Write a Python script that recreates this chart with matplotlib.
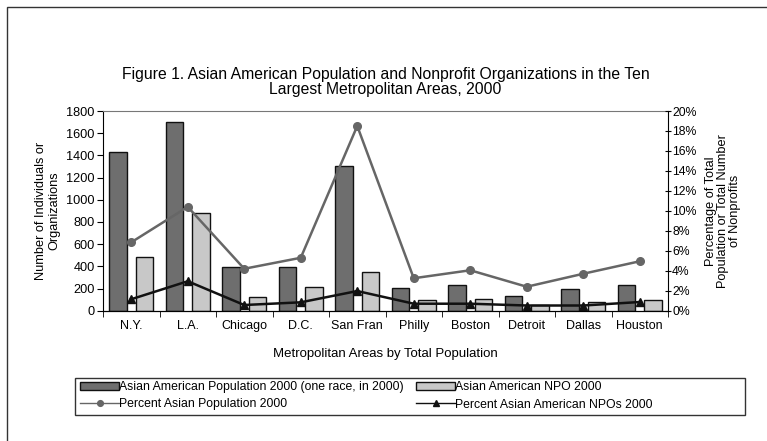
import matplotlib
matplotlib.use('Agg')
import matplotlib.pyplot as plt
import numpy as np
from matplotlib.patches import Rectangle

plt.rcParams['font.family'] = ['Liberation Sans', 'DejaVu Sans']

cities = ['N.Y.', 'L.A.', 'Chicago', 'D.C.', 'San Fran', 'Philly', 'Boston',
          'Detroit', 'Dallas', 'Houston']
# thousands of people / number of organisations
asian_pop = [1430, 1705, 396, 396, 1306, 207, 233, 134, 194, 233]
asian_npo = [481, 884, 126, 210, 351, 94, 104, 52, 74, 93]
# percent
pct_pop = [6.85, 10.4, 4.2, 5.3, 18.5, 3.25, 4.05, 2.4, 3.7, 4.95]
pct_npo = [1.15, 2.95, 0.57, 0.84, 1.97, 0.7, 0.7, 0.52, 0.52, 0.87]

x = np.arange(len(cities))
w = 0.31

fig = plt.figure(figsize=(7.67, 4.41), dpi=100)
ax = fig.add_axes([103/767, 1 - 310.7/441, (668 - 103)/767, (310.7 - 111)/441])

b1 = ax.bar(x - 0.235, asian_pop, w, color='#6e6e6e', edgecolor='#111111', linewidth=1.0,
            label='Asian American Population 2000 (one race, in 2000)')
b2 = ax.bar(x + 0.235, asian_npo, w, color='#c8c8c8', edgecolor='#111111', linewidth=1.0,
            label='Asian American NPO 2000')
ax.set_xlim(-0.5, len(cities) - 0.5)
ax.set_ylim(0, 1800)
ax.set_yticks(range(0, 1801, 200))
ax.set_xticks(x)
ax.set_xticklabels(cities)
ax.set_xticks(np.arange(-0.5, len(cities), 1), minor=True)
ax.tick_params(axis='x', which='major', length=0, pad=7, labelsize=9)
ax.tick_params(axis='x', which='minor', length=4, direction='out')
ax.tick_params(axis='y', length=4, direction='out', labelsize=9.2, pad=2)
ax.spines['top'].set_color('#777777')
ax.spines['right'].set_visible(False)
ax.set_xlabel('Metropolitan Areas by Total Population', fontsize=9.5, labelpad=11)
ax.set_ylabel('Number of Individuals or\nOrganizations', fontsize=9.2, labelpad=4)

ax2 = ax.twinx()
l1, = ax2.plot(x, pct_pop, color='#666666', marker='o', markersize=5.5, linewidth=1.8,
               label='Percent Asian Population 2000')
l2, = ax2.plot(x, pct_npo, color='#111111', marker='^', markersize=6, linewidth=1.8,
               label='Percent Asian American NPOs 2000')
ax2.set_ylim(0, 20)
ax2.set_yticks(range(0, 21, 2))
ax2.set_yticklabels([f'{v}%' for v in range(0, 21, 2)])
ax2.tick_params(axis='y', length=4, direction='inout', labelsize=8.8, pad=1)
ax2.spines['top'].set_visible(False)
ax2.spines['left'].set_visible(False)
fig.text(723/767, 1 - 211/441, 'Percentage of Total\nPopulation or Total Number\nof Nonprofits',
         fontsize=9.2, rotation=90, ha='center', va='center', linespacing=0.95)

fig.text(0.5026, 1 - 82/441, 'Figure 1. Asian American Population and Nonprofit Organizations in the Ten\n'
         'Largest Metropolitan Areas, 2000', ha='center', va='center', fontsize=11.3,
         linespacing=1.0)

leg = fig.legend([b1, l1, b2, l2],
                 [b1.get_label(), l1.get_label(), b2.get_label(), l2.get_label()],
                 loc='upper left', bbox_to_anchor=(80/767, 1 - 381/441), ncol=2,
                 fontsize=8.8, frameon=False, handlelength=3.2, markerscale=0.75,
                 handleheight=0.6, handletextpad=0.0, columnspacing=1.0,
                 borderpad=0.0, borderaxespad=0.0, labelspacing=0.45)
for h in leg.legend_handles:
    if hasattr(h, 'set_linewidth') and not isinstance(h, Rectangle):
        h.set_linewidth(1.0)

# legend box (wider than the entries, like the original)
fig.patches.append(Rectangle((75/767, 1 - 415/441), 670/767, 37/441, transform=fig.transFigure,
                             fill=False, edgecolor='#333333', linewidth=1.0))

# outer frame around the figure
fig.patches.append(Rectangle((7/767, -0.2), 1.2, 1.2 - 7/441, transform=fig.transFigure,
                             fill=False, edgecolor='#333333', linewidth=1.0))

fig.savefig('out.png', dpi=100)
